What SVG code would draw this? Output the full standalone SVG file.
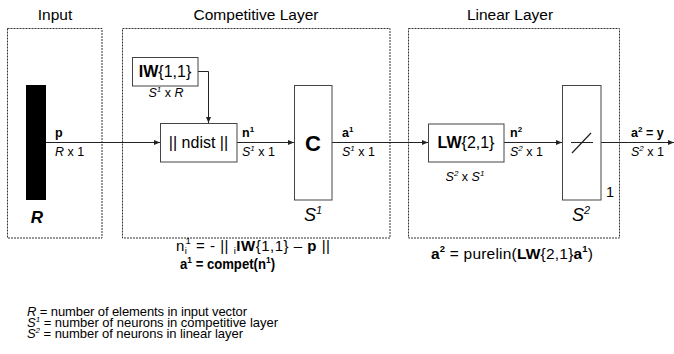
<svg xmlns="http://www.w3.org/2000/svg" width="674" height="354" viewBox="0 0 674 354">
<style>
text{font-family:"Liberation Sans",Arial,sans-serif;fill:#000}
.title{font-size:15.5px;text-anchor:middle}
.dash{fill:none;stroke:#333;stroke-width:1;stroke-dasharray:2,1}
.box{fill:#fff;stroke:#444;stroke-width:1}
.wire{fill:none;stroke:#222;stroke-width:1}
.lbl{font-size:12.5px}
.big{font-size:16px;text-anchor:middle}
.leg{font-size:13px}
.b{font-weight:bold}
.i{font-style:italic}
.mid{text-anchor:middle}
</style>
<defs>
<marker id="ah" viewBox="0 0 6 6" refX="6" refY="3" markerWidth="6" markerHeight="6" markerUnits="userSpaceOnUse" orient="auto">
<path d="M0,0.5 L6,3 L0,5.5 Z" fill="#222"/>
</marker>
</defs>

<text class="title" x="55" y="20">Input</text>
<text class="title" x="256" y="20">Competitive Layer</text>
<text class="title" x="510" y="20">Linear Layer</text>

<rect class="dash" x="7.5" y="28.5" width="94.5" height="209.5"/>
<rect class="dash" x="122.5" y="28.5" width="267.5" height="209.5"/>
<rect class="dash" x="408.5" y="28.5" width="211" height="209.5"/>

<g id="connectors">
<line class="wire" x1="46" y1="142.5" x2="160" y2="142.5" marker-end="url(#ah)"/>
<path class="wire" d="M198,71.5 H208.5 V123" marker-end="url(#ah)"/>
<line class="wire" x1="237" y1="142.5" x2="294" y2="142.5" marker-end="url(#ah)"/>
<line class="wire" x1="332" y1="142.5" x2="428" y2="142.5" marker-end="url(#ah)"/>
<line class="wire" x1="504" y1="142.5" x2="562" y2="142.5" marker-end="url(#ah)"/>
<line class="wire" x1="601" y1="142.5" x2="674" y2="142.5" marker-end="url(#ah)"/>
</g>

<g id="input">
<rect x="26" y="85" width="20" height="115" fill="#000"/>
<text x="37" y="223" class="b i mid" font-size="17">R</text>
<text x="55" y="137" class="lbl b">p</text>
<text x="55" y="156" class="lbl"><tspan class="i">R</tspan> x 1</text>
</g>

<g id="iw">
<rect class="box" x="132.5" y="57.5" width="65.5" height="28.5"/>
<text x="165" y="77" class="big"><tspan class="b">IW</tspan>{1,1}</text>
<text x="166" y="97" class="lbl mid"><tspan class="i">S</tspan><tspan class="i" font-size="8" dy="-5">1</tspan><tspan dy="5"> x </tspan><tspan class="i">R</tspan></text>
</g>

<g id="ndist">
<rect class="box" x="160.5" y="123.5" width="76.5" height="38.5"/>
<text x="198.5" y="148" class="big" font-size="15.5">|| ndist ||</text>
<text x="242" y="137" class="lbl b">n<tspan font-size="8" dy="-5">1</tspan></text>
<text x="242" y="156" class="lbl"><tspan class="i">S</tspan><tspan class="i" font-size="8" dy="-5">1</tspan><tspan dy="5"> x 1</tspan></text>
</g>

<g id="compet">
<rect class="box" x="294.5" y="85.5" width="37.5" height="114.5"/>
<text x="313" y="151" class="b mid" font-size="22">C</text>
<text x="313" y="221" class="i mid" font-size="18">S<tspan font-size="11" dy="-7">1</tspan></text>
<text x="342" y="137" class="lbl b">a<tspan font-size="8" dy="-5">1</tspan></text>
<text x="342" y="156" class="lbl"><tspan class="i">S</tspan><tspan class="i" font-size="8" dy="-5">1</tspan><tspan dy="5"> x 1</tspan></text>
</g>

<g id="lw">
<rect class="box" x="428.5" y="124" width="75.5" height="38"/>
<text x="466" y="148" class="big"><tspan class="b">LW</tspan>{2,1}</text>
<text x="465" y="181" class="lbl mid"><tspan class="i">S</tspan><tspan class="i" font-size="8" dy="-5">2</tspan><tspan dy="5"> x </tspan><tspan class="i">S</tspan><tspan class="i" font-size="8" dy="-5">1</tspan></text>
<text x="510" y="137" class="lbl b">n<tspan font-size="8" dy="-5">2</tspan></text>
<text x="510" y="156" class="lbl"><tspan class="i">S</tspan><tspan class="i" font-size="8" dy="-5">2</tspan><tspan dy="5"> x 1</tspan></text>
</g>

<g id="purelin">
<rect class="box" x="562.5" y="85.5" width="38.5" height="114.5"/>
<line x1="571" y1="142.5" x2="593" y2="142.5" stroke="#222" stroke-width="1"/>
<line x1="572" y1="153" x2="591" y2="133" stroke="#222" stroke-width="1.2"/>
<text x="606" y="197" font-size="14.5">1</text>
<text x="581" y="221" class="i mid" font-size="18">S<tspan font-size="11" dy="-7">2</tspan></text>
<text x="631" y="137" class="lbl b">a<tspan font-size="8" dy="-5">2</tspan><tspan dy="5"> = y</tspan></text>
<text x="631" y="156" class="lbl"><tspan class="i">S</tspan><tspan class="i" font-size="8" dy="-5">2</tspan><tspan dy="5"> x 1</tspan></text>
</g>

<g id="equations">
<text x="176" y="251" font-size="15" textLength="154">n<tspan font-size="9.5" dy="3">i</tspan><tspan font-size="9.5" dx="-2" dy="-10">1</tspan><tspan dy="7"> = - || </tspan><tspan font-size="9.5" dy="3">i</tspan><tspan class="b" dy="-3">IW</tspan>{1,1} – <tspan class="b">p</tspan> ||</text>
<text x="180" y="269" font-size="14" class="b" textLength="95" lengthAdjust="spacingAndGlyphs">a<tspan font-size="9" dy="-6">1</tspan><tspan dy="6"> = compet(n</tspan><tspan font-size="9" dy="-6">1</tspan><tspan dy="6">)</tspan></text>
<text x="431" y="259" font-size="15.5" textLength="162"><tspan class="b">a</tspan><tspan class="b" font-size="9.5" dy="-7">2</tspan><tspan dy="7"> = purelin(</tspan><tspan class="b">LW</tspan>{2,1}<tspan class="b">a</tspan><tspan class="b" font-size="9.5" dy="-7">1</tspan><tspan dy="7">)</tspan></text>
</g>

<g id="legend">
<text x="27" y="316" class="leg" textLength="220"><tspan class="i">R</tspan> = number of elements in input vector</text>
<text x="27" y="327" class="leg" textLength="251"><tspan class="i">S</tspan><tspan class="i" font-size="8" dy="-5">1</tspan><tspan dy="5"> = number of neurons in competitive layer</tspan></text>
<text x="27" y="338" class="leg" textLength="216"><tspan class="i">S</tspan><tspan class="i" font-size="8" dy="-5">2</tspan><tspan dy="5"> = number of neurons in linear layer</tspan></text>
</g>
</svg>
